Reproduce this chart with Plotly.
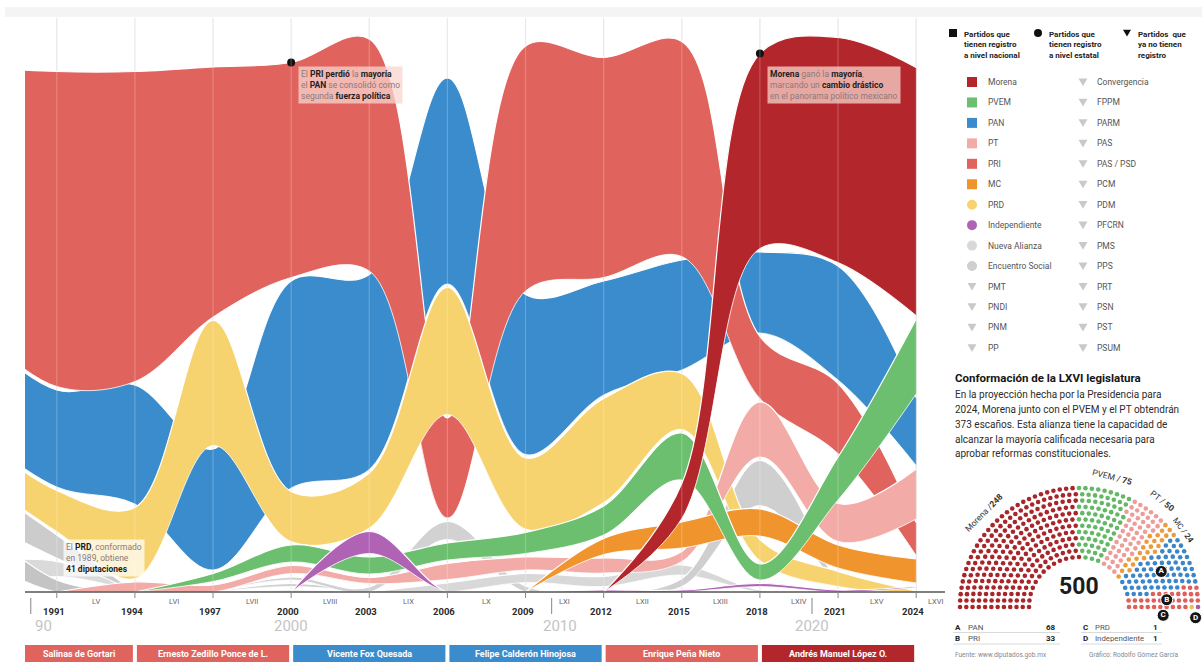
import numpy as np
import plotly.graph_objects as go

W, H = 1202, 662
FONT = "Roboto, 'Open Sans', sans-serif"

# ---------------- data (seats per legislature) ----------------
years = [1988, 1991, 1994, 1997, 2000, 2003, 2006, 2009, 2012, 2015, 2018, 2021, 2024]
legislaturas = ["LV", "LVI", "LVII", "LVIII", "LIX", "LX", "LXI", "LXII", "LXIII", "LXIV", "LXV", "LXVI"]
decades = [1990, 2000, 2010, 2020]
decade_labels = ["90", "2000", "2010", "2020"]

pri = [262, 315, 310, 250, 215, 232, 100, 245, 220, 215, 62, 70, 33]
pan = [101, 97, 119, 121, 207, 195, 206, 160, 114, 110, 81, 114, 68]
prd = [40, 41, 71, 125, 50, 55, 127, 71, 104, 56, 21, 15, 1]
pt = [0, 0, 10, 7, 8, 6, 16, 13, 15, 10, 55, 38, 50]
pvem = [0, 0, 0, 8, 17, 17, 17, 21, 29, 47, 16, 43, 75]
mc = [0, 0, 0, 0, 0, 0, 0, 0, 16, 26, 27, 23, 24]
morena = [0, 0, 0, 0, 0, 0, 0, 0, 0, 35, 195, 225, 248]
independiente = [0, 0, 0, 0, 0, 22, 0, 0, 2, 2, 3, 2, 1]
nueva_alianza = [0, 0, 0, 0, 0, 0, 9, 9, 10, 10, 2, 0, 0]
encuentro_social = [0, 0, 0, 0, 0, 0, 0, 0, 0, 8, 45, 0, 0]
convergencia = [0, 0, 0, 0, 3, 5, 18, 6, 0, 0, 0, 0, 0]
pfcrn = [38, 23, 0, 0, 0, 0, 0, 0, 0, 0, 0, 0, 0]
parm = [30, 15, 0, 0, 0, 0, 0, 0, 0, 0, 0, 0, 0]
pps = [36, 12, 0, 0, 0, 0, 0, 0, 0, 0, 0, 0, 0]
psn = [0, 0, 0, 0, 3, 0, 0, 0, 0, 0, 0, 0, 0]
pas = [0, 0, 0, 0, 2, 0, 0, 0, 0, 0, 0, 0, 0]

presidentes = ["Salinas de Gortari", "Ernesto Zedillo Ponce de L.", "Vicente Fox Quesada",
               "Felipe Calderón Hinojosa", "Enrique Peña Nieto", "Andrés Manuel López O."]
periodo_inicio = [1988, 1994, 2000, 2006, 2012, 2018]
periodo_fin = [1994, 2000, 2006, 2012, 2018, 2024]
presidente_partido = ["PRI", "PRI", "PAN", "PAN", "PRI", "Morena"]

hemi_partidos = ["Morena", "PVEM", "PT", "MC", "PAN", "PRI", "PRD", "Independiente"]
hemi_escanos = [248, 75, 50, 24, 68, 33, 1, 1]

legend_col1 = [("Morena", "sq"), ("PVEM", "sq"), ("PAN", "sq"), ("PT", "sq"), ("PRI", "sq"),
               ("MC", "sq"), ("PRD", "ci"), ("Independiente", "ci"), ("Nueva Alianza", "ci"),
               ("Encuentro Social", "ci"), ("PMT", "tr"), ("PNDI", "tr"), ("PNM", "tr"), ("PP", "tr")]
legend_col2 = ["Convergencia", "FPPM", "PARM", "PAS", "PAS / PSD", "PCM", "PDM", "PFCRN",
               "PMS", "PPS", "PRT", "PSN", "PST", "PSUM"]

# ---------------- styles ----------------
colors = {
    "Morena": "#b3262b", "PVEM": "#6bbf6e", "PAN": "#3b8ccc", "PT": "#f3aba7",
    "PRI": "#e0635d", "MC": "#f0952e", "PRD": "#f6d36e", "Independiente": "#b063b5",
    "Nueva Alianza": "#d8d8d8", "Encuentro Social": "#cfcfcf", "Convergencia": "#d2d2d2",
    "PFCRN": "#cccccc", "PARM": "#dadada", "PPS": "#c4c4c4", "PSN": "#d0d0d0", "PAS": "#d8d8d8",
}
seat_colors = {"Morena": "#a8262a", "PVEM": "#63b866", "PT": "#ee9c98", "MC": "#ee9a3a",
               "PAN": "#3a86c8", "PRI": "#de5e5a", "PRD": "#e9c24e", "Independiente": "#a659ab"}
TRI = "#c9c9c9"

series = {
    "PFCRN": pfcrn, "PARM": parm, "PPS": pps, "PSN": psn, "PAS": pas,
    "Convergencia": convergencia, "Nueva Alianza": nueva_alianza, "Encuentro Social": encuentro_social,
    "PAN": pan, "PRI": pri, "PRD": prd, "PT": pt, "MC": mc, "PVEM": pvem,
    "Independiente": independiente, "Morena": morena,
}
draw_order = list(series.keys())
GAP = 3.5

# ---------------- geometry helpers ----------------
X0_PX, X1_PX = 25, 937
YB_PX, YT_PX = 592, 18
XR = [1989.78, 2024.8]


def px(x):
    return x / W


def py(y):
    return 1 - y / H


def year_px(yr):
    return X0_PX + (yr - XR[0]) / (XR[1] - XR[0]) * (X1_PX - X0_PX)


# ---------------- ribbon stacking (rank order each legislature) ----------------
n = len(years)
lo = {p: [0.0] * n for p in series}
hi = {p: [0.0] * n for p in series}
for i in range(n):
    present = sorted((series[p][i], draw_order.index(p), p) for p in series if series[p][i] > 0)
    base = 0.0
    for v, _, p in present:
        lo[p][i] = base
        hi[p][i] = base + v
        base += v + GAP

fig = go.Figure()
for p in draw_order:
    vals = series[p]
    nz = [i for i, v in enumerate(vals) if v > 0]
    a, b = max(nz[0] - 1, 0), min(nz[-1] + 1, n - 1)
    xs = years[a:b + 1]
    fig.add_trace(go.Scatter(x=xs, y=lo[p][a:b + 1], mode="lines",
                             line=dict(color="white", width=0.8, shape="spline", smoothing=1),
                             hoverinfo="skip", showlegend=False))
    fig.add_trace(go.Scatter(x=xs, y=hi[p][a:b + 1], mode="lines", fill="tonexty",
                             fillcolor=colors[p],
                             line=dict(color="white", width=1.2, shape="spline", smoothing=1),
                             name=p, showlegend=False))

# annotation dots
i2000, i2018 = years.index(2000), years.index(2018)
fig.add_trace(go.Scatter(x=[2000, 2018], y=[hi["PRI"][i2000], hi["Morena"][i2018]], mode="markers",
                         marker=dict(color="#111", size=8), cliponaxis=False, showlegend=False,
                         hoverinfo="skip"))

shapes = []
annotations = []


def txt(x, y, s, size=8.5, color="#333", xanchor="left", yanchor="middle", angle=0, **kw):
    annotations.append(dict(x=px(x), y=py(y), xref="paper", yref="paper", text=s, showarrow=False,
                            font=dict(family=FONT, size=size, color=color), xanchor=xanchor,
                            yanchor=yanchor, textangle=angle, **kw))


def rect(x0, y0, x1, y1, color, layer="above"):
    shapes.append(dict(type="rect", xref="paper", yref="paper", x0=px(x0), x1=px(x1), y0=py(y0),
                       y1=py(y1), fillcolor=color, line=dict(width=0), layer=layer))


def hline(x0, x1, y, color, width=1, layer="above"):
    shapes.append(dict(type="line", xref="paper", yref="paper", x0=px(x0), x1=px(x1), y0=py(y), y1=py(y),
                       line=dict(color=color, width=width), layer=layer))


def vline(x, y0, y1, color, width=1, layer="above"):
    shapes.append(dict(type="line", xref="paper", yref="paper", x0=px(x), x1=px(x), y0=py(y0), y1=py(y1),
                       line=dict(color=color, width=width), layer=layer))


# top faint band
rect(5, 7, 1202, 17, "#f4f4f4", layer="below")

# gridlines
for yr in years[1:]:
    xg = year_px(yr)
    vline(xg, YT_PX, YB_PX, "#e4e4e4", 1.2, layer="below")
    vline(xg, YT_PX, YB_PX, "rgba(255,255,255,0.22)", 1.2, layer="above")

# axis line and ticks
hline(X0_PX, 945, YB_PX, "#555", 1.6)
for yr in years[1:]:
    vline(year_px(yr), YB_PX, YB_PX + 6, "#888", 1)
for d in [1990, 2010, 2020]:
    vline(year_px(d), 598, 614, "#999", 1.2)

# axis labels
for d, lab in zip(decades, decade_labels):
    if d == 1990:
        txt(year_px(d) + 2, 626, lab, size=15, color="#c4c4c4", xanchor="left")
    else:
        txt(year_px(d) + (8 if d == 2010 else 0), 626, lab, size=15, color="#c4c4c4", xanchor="center")
for k, yr in enumerate(years[1:]):
    txt(year_px(yr) - 3, 611, f"<b>{yr}</b>", size=9.5, color="#2a2a2a", xanchor="center")
for k, lab in enumerate(legislaturas):
    if k < len(legislaturas) - 1:
        xm = year_px((years[k + 1] + years[k + 2]) / 2)
    else:
        xm = year_px(XR[1]) - 1
    txt(xm, 601, lab, size=7.5, color="#666", xanchor="center")

# president bars
for name, a, b, part in zip(presidentes, periodo_inicio, periodo_fin, presidente_partido):
    x0 = max(year_px(a) + 2, X0_PX)
    x1 = year_px(b) - 2
    rect(x0, 645, x1, 662, colors[part])
    txt((x0 + x1) / 2, 653.5, f"<b>{name}</b>", size=9, color="white", xanchor="center")


# chart notes
def note(x, y, body, bg):
    annotations.append(dict(x=px(x), y=py(y), xref="paper", yref="paper", text=body, showarrow=False,
                            align="left", xanchor="left", yanchor="top", bgcolor=bg, borderpad=2,
                            font=dict(family=FONT, size=8.5, color="#8d7a77")))


D = "<span style='color:#1e1e1e'><b>%s</b></span>"
dot1 = year_px(2000)
dot2 = year_px(2018)
note(dot1 + 7, 66, ("El " + D % "PRI perdió" + " la " + D % "mayoría" + "<br>el " + D % "PAN" +
                    " se consolidó como<br>segunda " + D % "fuerza política"), "rgba(250,212,205,0.75)")
note(dot2 + 7, 66, (D % "Morena" + " ganó la " + D % "mayoría" + ",<br>marcando un " +
                    D % "cambio drástico" + "<br>en el panorama político mexicano"), "rgba(246,205,198,0.78)")
note(63, 539, ("El " + D % "PRD" + ", conformado<br>en 1989, obtiene<br>" + D % "41 diputaciones"),
     "rgba(255,255,255,0.72)")

# ---------------- right panel: legend ----------------
hdr = [(953, "sq", "Partidos que<br>tienen registro<br>a nivel nacional"),
       (1038, "ci", "Partidos que<br>tienen registro<br>a nivel estatal"),
       (1127, "tr", "Partidos  que<br>ya no tienen<br>registro")]


def marker_shape(kind, cx, cy, color, s=10):
    h = s / 2
    if kind == "sq":
        shapes.append(dict(type="rect", xref="paper", yref="paper", x0=px(cx - h), x1=px(cx + h),
                           y0=py(cy + h), y1=py(cy - h), fillcolor=color, line=dict(width=0)))
    elif kind == "ci":
        shapes.append(dict(type="circle", xref="paper", yref="paper", x0=px(cx - h), x1=px(cx + h),
                           y0=py(cy + h), y1=py(cy - h), fillcolor=color, line=dict(width=0)))
    else:
        path = "M %f,%f L %f,%f L %f,%f Z" % (px(cx - h), py(cy - h * 0.8), px(cx + h), py(cy - h * 0.8),
                                            px(cx), py(cy + h * 0.9))
        shapes.append(dict(type="path", xref="paper", yref="paper", path=path, fillcolor=color,
                           line=dict(width=0)))


for x, kind, s in hdr:
    marker_shape(kind, x, 33, "#111", 8)
    annotations.append(dict(x=px(x + 9), y=py(28), xref="paper", yref="paper", text=f"<b>{s}</b>",
                            showarrow=False, align="left", xanchor="left", yanchor="top",
                            font=dict(family=FONT, size=8, color="#222")))

for k, (name, kind) in enumerate(legend_col1):
    yy = 82 + k * 20.45
    c = colors.get(name, TRI) if kind != "tr" else TRI
    marker_shape(kind, 972, yy, c, 10 if kind != "tr" else 9)
    txt(986, yy, name, size=8.5, color="#555")
for k, name in enumerate(legend_col2):
    yy = 82 + k * 20.45
    marker_shape("tr", 1083, yy, TRI, 9)
    txt(1095, yy, name, size=8.5, color="#555")

# ---------------- right panel: LXVI text ----------------
txt(953, 378, "<b>Conformación de la LXVI legislatura</b>", size=11.5, color="#151515")
para = ["En la proyección hecha por la Presidencia para",
        "2024, Morena junto con el PVEM y el PT obtendrán",
        "373 escaños. Esta alianza tiene la capacidad de",
        "alcanzar la mayoría calificada necesaria para",
        "aprobar reformas constitucionales."]
for k, line in enumerate(para):
    txt(953, 394 + k * 15, line, size=10, color="#2c2c2c")

# ---------------- hemicycle ----------------
CX, CY, SC = 1079, 607, 119.0
n_rows = 12
radii = np.linspace(0.42, 1.0, n_rows)
total = sum(hemi_escanos)
raw = total * radii / radii.sum()
counts = np.floor(raw).astype(int)
rem = int(total - counts.sum())
order = np.argsort(-(raw - counts))
counts[order[:rem]] += 1
seats = []
for r, c in zip(radii, counts):
    for a in np.linspace(np.pi, 0, c):
        seats.append((a, r))
seats.sort(key=lambda s: (-round(s[0], 6), s[1]))

pos = {}
start = 0
for p, c in zip(hemi_partidos, hemi_escanos):
    sub = seats[start:start + c]
    pos[p] = (np.array([r * np.cos(a) for a, r in sub]), np.array([r * np.sin(a) for a, r in sub]))
    start += c
    fig.add_trace(go.Scatter(x=pos[p][0], y=pos[p][1], mode="markers", xaxis="x2", yaxis="y2",
                             marker=dict(color=seat_colors[p], size=4.6, line=dict(width=0)),
                             cliponaxis=False, showlegend=False, hoverinfo="skip"))

annotations.append(dict(x=0, y=0.17, xref="x2", yref="y2", text="<b>500</b>", showarrow=False,
                        font=dict(family=FONT, size=23, color="#1c1c1c")))

# party labels around the hemicycle
label_shift = {"Morena": (0, 1.13), "PVEM": (-1.5, 1.13), "PT": (-3, 1.13), "MC": (-5, 1.09)}
cum = 0
for p, c in zip(hemi_partidos, hemi_escanos):
    mid = np.pi * (1 - (cum + c / 2) / total)
    cum += c
    if p not in label_shift:
        continue
    dang, rr = label_shift[p]
    mid += np.radians(dang)
    ang = 90 - np.degrees(mid)
    sep = " /" if p == "Morena" else " / "
    annotations.append(dict(x=rr * np.cos(mid), y=rr * np.sin(mid), xref="x2", yref="y2",
                            text=f"{p}{sep}<b>{c}</b>", showarrow=False, textangle=ang,
                            font=dict(family=FONT, size=8 if p == "MC" else 8.5, color="#333")))

# letter markers
lx = [pos["PAN"][0].mean(), pos["PRI"][0].mean(), pos["PRD"][0][0] - 0.24, pos["Independiente"][0][0] - 0.02]
ly = [pos["PAN"][1].mean(), pos["PRI"][1].mean(), pos["PRD"][1][0] - 0.07, pos["Independiente"][1][0] - 0.09]
fig.add_trace(go.Scatter(x=lx, y=ly, mode="markers+text", xaxis="x2", yaxis="y2",
                         text=["<b>A</b>", "<b>B</b>", "<b>C</b>", "<b>D</b>"], textposition="middle center",
                         textfont=dict(family=FONT, size=8, color="white"),
                         marker=dict(color="#151515", size=12, line=dict(color="white", width=1)),
                         cliponaxis=False, showlegend=False, hoverinfo="skip"))

# table under the hemicycle
rows = [("A", "PAN", 68, "C", "PRD", 1), ("B", "PRI", 33, "D", "Independiente", 1)]
for k, (l1, n1, v1, l2, n2, v2) in enumerate(rows):
    yy = 627 + k * 11.5
    txt(953, yy, f"<b>{l1}</b>", size=8, color="#222")
    txt(966, yy, n1, size=8, color="#555")
    txt(1058, yy, f"<b>{v1}</b>", size=8, color="#222", xanchor="right")
    txt(1081, yy, f"<b>{l2}</b>", size=8, color="#222")
    txt(1093, yy, n2, size=7.8, color="#555")
    txt(1160, yy, f"<b>{v2}</b>", size=8, color="#222", xanchor="right")
    hline(953, 1060, yy + 5.5, "#d0d0d0", 0.8)
    hline(1081, 1162, yy + 5.5, "#d0d0d0", 0.8)
txt(953, 655, "Fuente: www.diputados.gob.mx", size=6.5, color="#888")
txt(1087, 655, "Gráfico: Rodolfo Gómez García", size=6.5, color="#888")

# ---------------- layout ----------------
fig.update_layout(
    width=W, height=H, margin=dict(l=0, r=0, t=0, b=0, pad=0),
    paper_bgcolor="white", plot_bgcolor="white",
    font=dict(family=FONT),
    xaxis=dict(domain=[px(X0_PX), px(X1_PX)], range=XR, visible=False, fixedrange=True),
    yaxis=dict(domain=[py(YB_PX), py(YT_PX)], range=[0, YB_PX - YT_PX], visible=False, fixedrange=True),
    xaxis2=dict(domain=[px(955), 1.0], range=[(955 - CX) / SC, (W - CX) / SC], visible=False,
                anchor="y2", fixedrange=True),
    yaxis2=dict(domain=[py(620), py(470)], range=[(CY - 620) / SC, (CY - 470) / SC], visible=False,
                anchor="x2", fixedrange=True),
    shapes=shapes, annotations=annotations, showlegend=False,
)

fig.write_html("out.html", config={"displayModeBar": False},
               post_script="document.body.style.margin='0px';document.body.style.overflow='hidden';")
